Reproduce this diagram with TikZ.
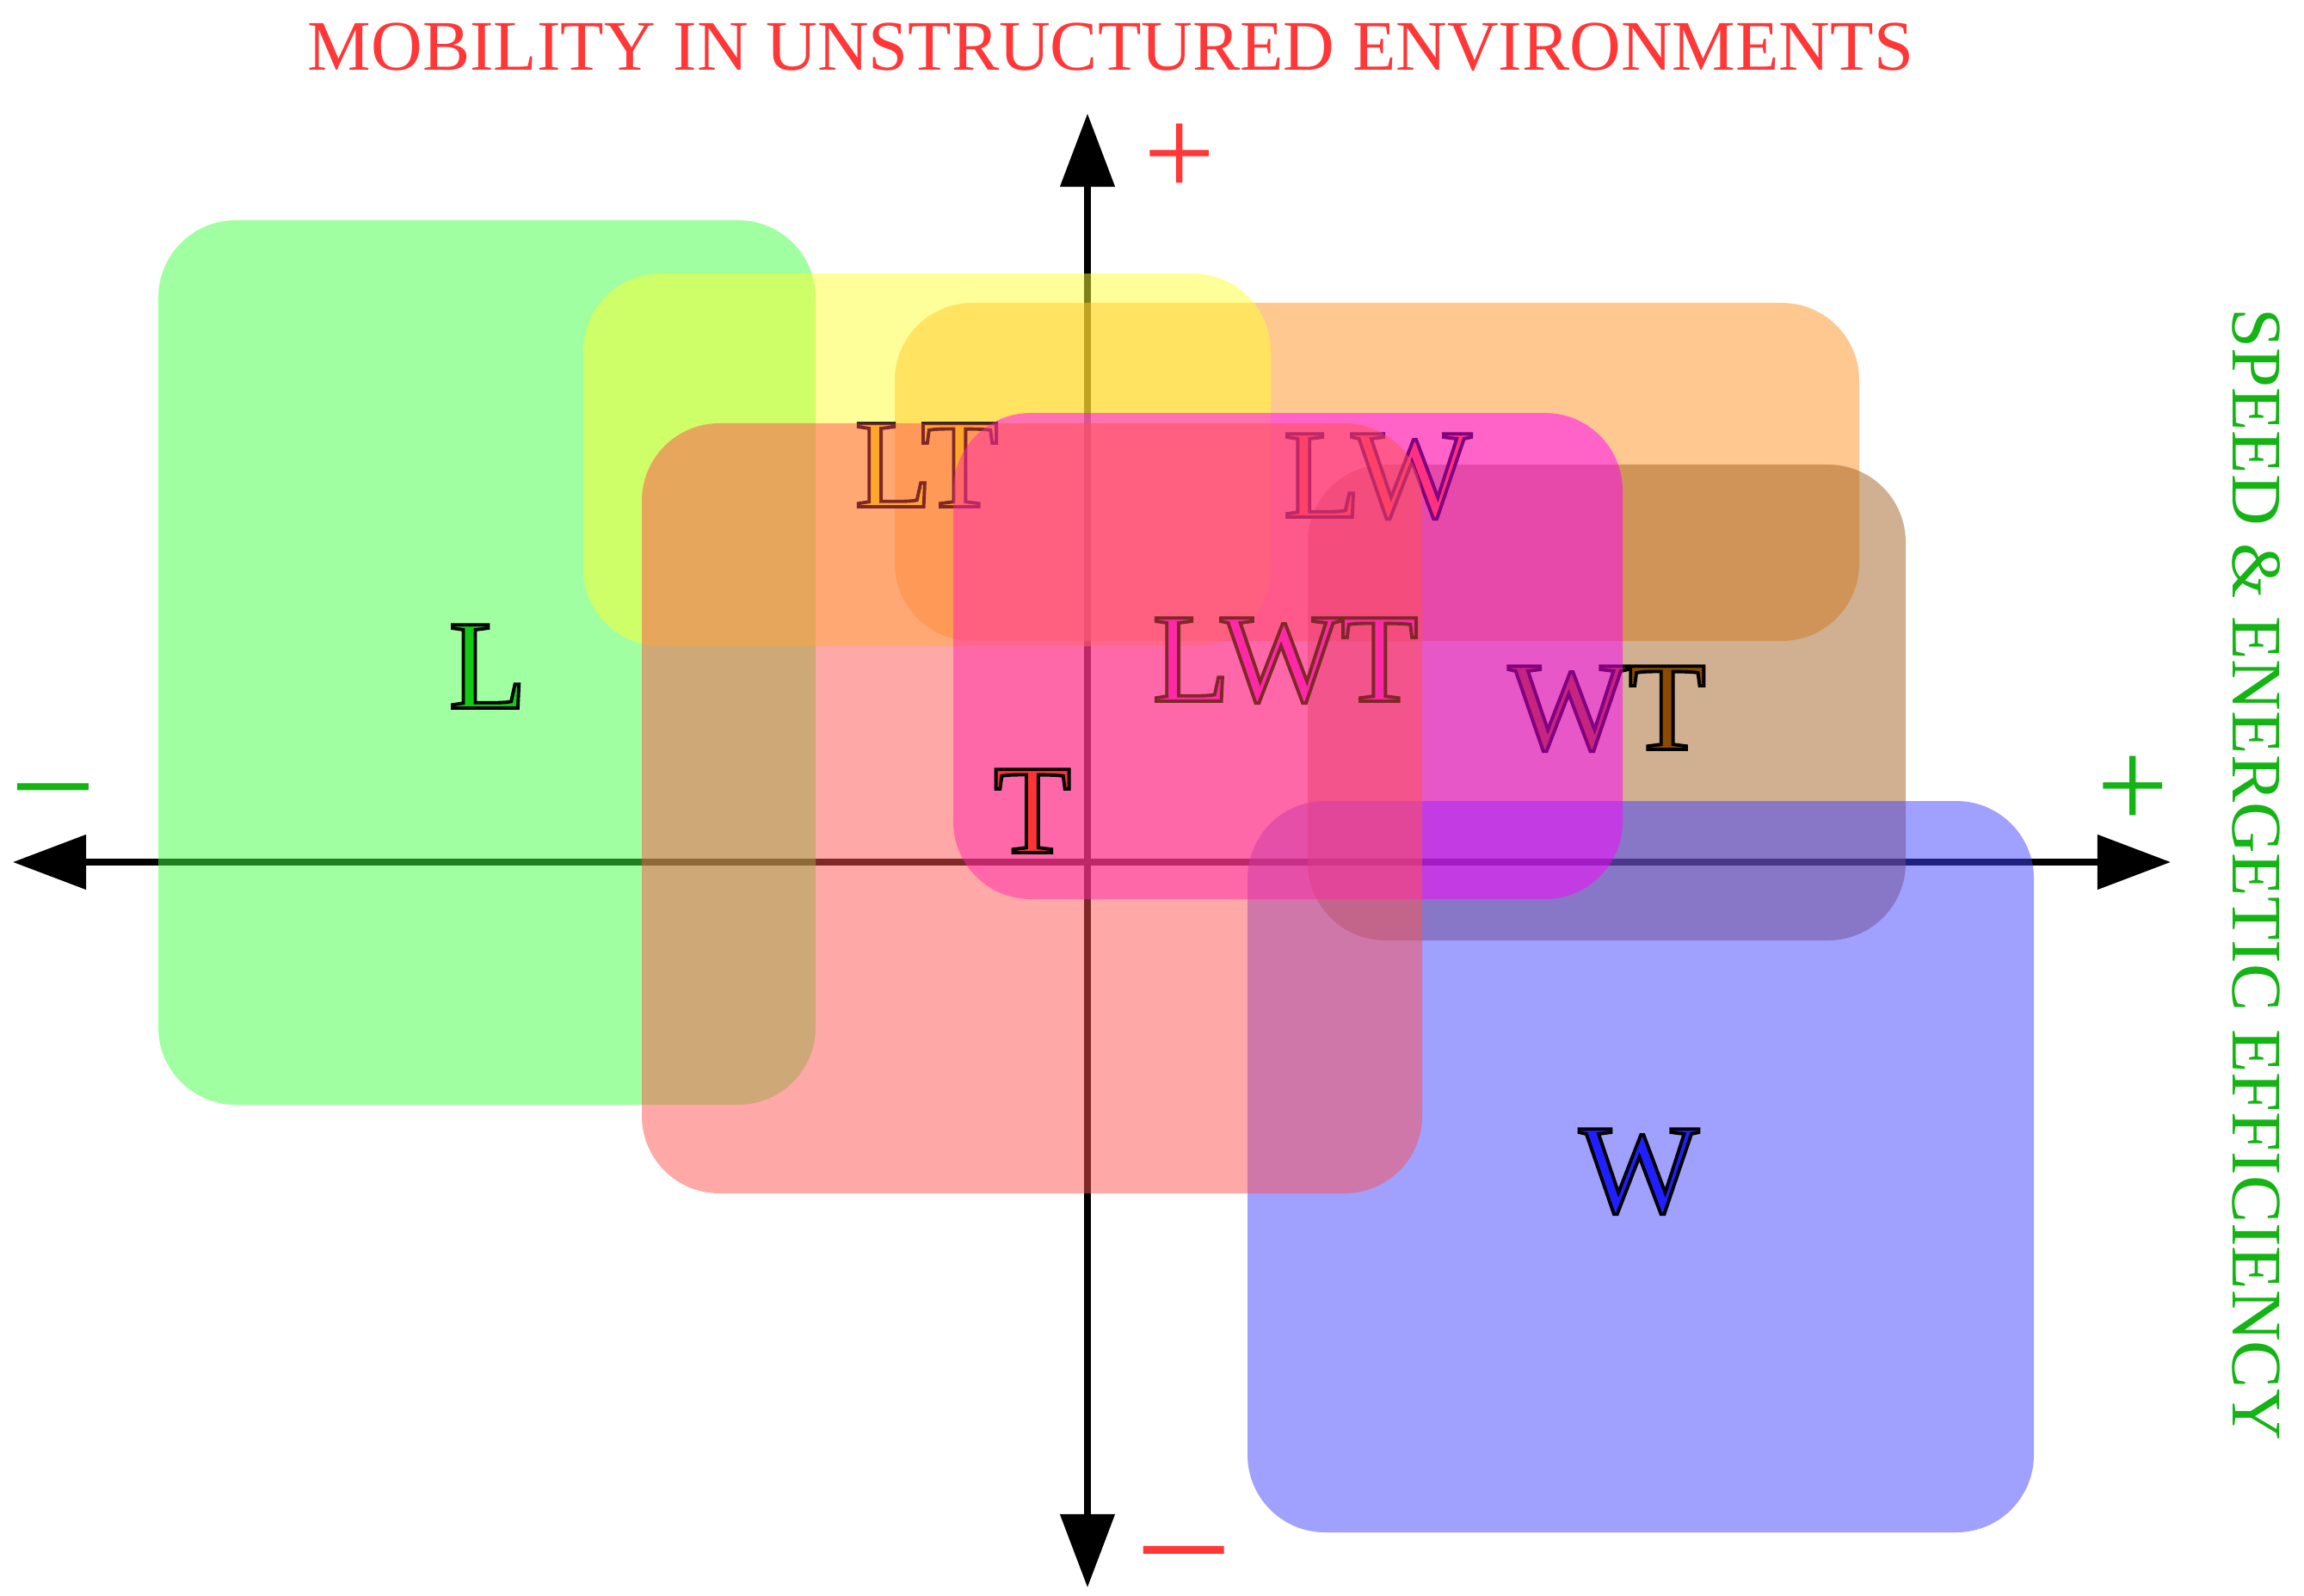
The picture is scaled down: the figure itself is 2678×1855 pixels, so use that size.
\documentclass[tikz,border=0pt]{standalone}
\usepackage{fontspec}
\setmainfont{Liberation Serif}
\usetikzlibrary{arrows.meta}
\newcommand{\outl}[1]{\special{pdf:literal direct 0 G 1.1 w 2 Tr}#1\special{pdf:literal direct 0 Tr}}
\definecolor{cgreen}{RGB}{65,255,65}
\definecolor{cyellow}{RGB}{255,255,51}
\definecolor{corange}{RGB}{255,145,33}
\definecolor{csalmon}{RGB}{255,81,81}
\definecolor{cmagenta}{RGB}{255,0,255}
\definecolor{cbrown}{RGB}{161,97,33}
\definecolor{cblue}{RGB}{65,65,255}
\definecolor{lgreen}{RGB}{20,200,20}
\definecolor{lyellow}{RGB}{255,255,0}
\definecolor{lorange}{RGB}{255,100,0}
\definecolor{lbrown}{RGB}{139,74,0}
\definecolor{lmagenta}{RGB}{255,0,255}
\definecolor{lred}{RGB}{255,51,51}
\definecolor{lblue}{RGB}{32,32,255}
\definecolor{tred}{RGB}{255,55,55}
\definecolor{tgreen}{RGB}{20,180,20}
\begin{document}
\begin{tikzpicture}[x=0.01cm,y=-0.01cm,
  zone/.style={fill opacity=0.5, rounded corners=0.9cm},
  lab/.style={inner sep=0pt, anchor=base, font=\fontsize{42}{50}\selectfont},
  axisline/.style={line width=2.2pt, arrows={Triangle[length=0.85cm,width=0.62cm]-Triangle[length=0.85cm,width=0.62cm]}},
  caption/.style={inner sep=0pt, font=\fontsize{23.5}{28}\selectfont}]
\useasboundingbox (0,0) rectangle (2678,1855);
% axes
\coordinate (xneg) at (15,1002);
\coordinate (xpos) at (2523,1002);
\coordinate (ytop) at (1264,132);
\coordinate (ybot) at (1264,1845);
\draw[axisline] (xneg) -- (xpos);
\draw[axisline] (ybot) -- (ytop);
% L
\fill[zone, fill=cgreen] (184,256) rectangle (948,1284);
\node[lab, text=lgreen] (labL) at (567,823) {\outl{L}};
% LW zone
\fill[zone, fill=corange] (1040,352) rectangle (2161,745);
% LT zone
\fill[zone, fill=cyellow] (678,318) rectangle (1477,751);
\node[lab, text=lyellow] (labLT) at (1077,589) {\outl{LT}};
% WT zone
\fill[zone, fill=cbrown] (1520,540) rectangle (2215,1093);
\node[lab, text=lorange] (labLW) at (1601,601) {\outl{LW}};
\node[lab, text=lbrown] (labWT) at (1868,871) {\outl{WT}};
% W zone
\fill[zone, fill=cblue] (1450,931) rectangle (2364,1781);
\node[lab, text=lblue] (labW) at (1905,1409) {\outl{W}};
% LWT zone
\fill[zone, fill=cmagenta] (1108,480) rectangle (1886,1045);
\node[lab, text=lmagenta] (labLWT) at (1494,815) {\outl{LWT}};
% T zone
\fill[zone, fill=csalmon] (746,492) rectangle (1653,1387);
\node[lab, text=lred] (labT) at (1200,991) {\outl{T}};
% axis labels
\node[caption, anchor=base, text=tred] (title) at (1291,82) {MOBILITY IN UNSTRUCTURED ENVIRONMENTS};
\node[caption, rotate=-90, text=tgreen] (speed) at (2623,1016) {SPEED \& ENERGETIC EFFICIENCY};
\node[lab, text=tred] (yplus) at (1371,228) {+};
\node[lab, text=tred, font=\fontsize{52}{60}\selectfont] (yminus) at (1376,1844) {–};
\node[lab, text=tgreen] (xplus) at (2479,962) {+};
\node[lab, text=tgreen, font=\fontsize{46}{54}\selectfont] (xminus) at (62,952) {–};
\end{tikzpicture}
\end{document}
